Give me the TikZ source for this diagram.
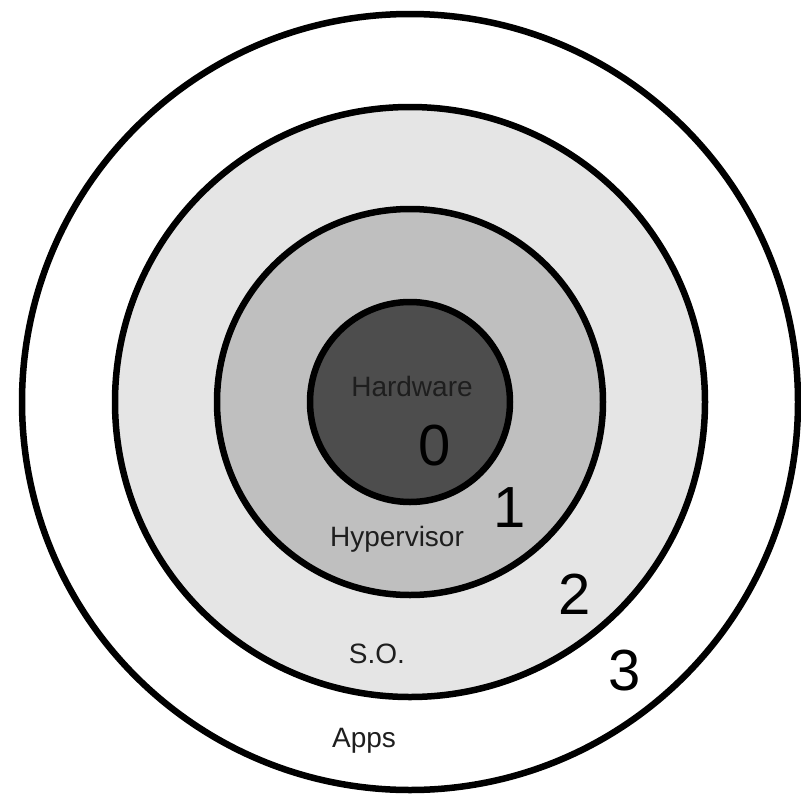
\documentclass[tikz,border=0pt]{standalone}
\usepackage{fontspec}
\setmainfont{Liberation Sans}
\definecolor{ringA}{HTML}{E5E5E5}
\definecolor{ringB}{HTML}{BFBFBF}
\definecolor{core}{HTML}{4D4D4D}
\definecolor{txt}{HTML}{1E1E1E}
\begin{document}
\begin{tikzpicture}[x=1pt,y=-1pt,
  ring/.style={draw=black,line width=6.5pt},
  lbl/.style={anchor=base,inner sep=0pt,text=txt,font=\fontsize{28}{32}\selectfont},
  num/.style={anchor=base,inner sep=0pt,text=black,font=\fontsize{58}{64}\selectfont}]
\useasboundingbox (0,0) rectangle (801,793);
\fill[white] (0,0) rectangle (801,793);
\coordinate (c) at (410,402);
\draw[ring,fill=white] (c) circle[radius=388];
\draw[ring,fill=ringA] (c) circle[radius=295];
\draw[ring,fill=ringB] (c) circle[radius=193];
\draw[ring,fill=core] (c) circle[radius=100];
\node[lbl] (hw) at (412,396) {Hardware};
\node[num] (n0) at (435,465) {0};
\node[num] (n1) at (510,527) {1};
\node[lbl] (hyp) at (397,546) {Hypervisor};
\node[num] (n2) at (575,614) {2};
\node[lbl] (so) at (377,663) {S.O.};
\node[num] (n3) at (625,690) {3};
\node[lbl] (apps) at (364,747) {Apps};
\end{tikzpicture}
\end{document}
